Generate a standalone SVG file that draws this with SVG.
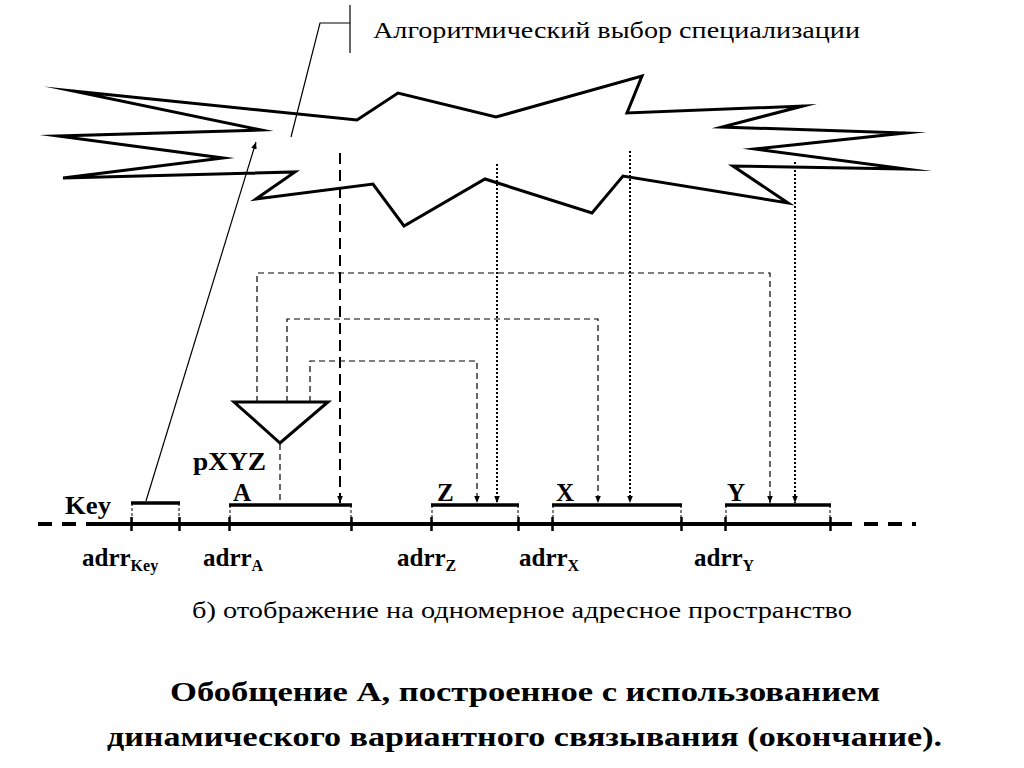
<svg xmlns="http://www.w3.org/2000/svg" width="1024" height="768" viewBox="0 0 1024 768" font-family="'Liberation Serif', 'DejaVu Serif', serif">
<defs>
<style>
text{font-family:'Liberation Serif','DejaVu Serif',serif;fill:#000}
.b{font-weight:bold}
.star{fill:none;stroke:#000;stroke-width:3;stroke-linejoin:miter;stroke-miterlimit:20}
.thin{fill:none;stroke:#000;stroke-width:1.2}
.dash{fill:none;stroke:#000;stroke-width:1.2;stroke-dasharray:6,4}
.long{fill:none;stroke:#000;stroke-width:2;stroke-dasharray:11,6}
.dot{fill:none;stroke:#000;stroke-width:2;stroke-dasharray:2,2}
.bar{fill:none;stroke:#000;stroke-width:3.5}
.axis{fill:none;stroke:#000;stroke-width:4}
.axd{fill:none;stroke:#000;stroke-width:4;stroke-dasharray:14,10}
.vd{fill:none;stroke:#000;stroke-width:1;stroke-dasharray:3,2}
.tick{fill:none;stroke:#000;stroke-width:2.5}
</style>
<marker id="ah" viewBox="0 0 10 10" refX="10" refY="5" markerWidth="7" markerHeight="7" markerUnits="userSpaceOnUse" orient="auto">
<path d="M0,1 L10,5 L0,9 z" fill="#000"/>
</marker>
</defs>
<rect width="1024" height="768" fill="#fff"/>

<g id="star">
<polygon class="star" points="73,91 357,120 398,93 496,117 642,76 627,113 803,106 722,127 905,133 755,149 906,169 733,166 788,203 623,176 592,213 485,179 404,226 373,184 256,199 295,172 63,178 223,158 58,136 261,130"/>
</g>

<g id="callout">
<polyline class="thin" points="291,137 320,23 350,23"/>
<line class="thin" x1="350" y1="5" x2="350" y2="53"/>
<text x="373" y="38" font-size="24" textLength="487" lengthAdjust="spacingAndGlyphs">Алгоритмический  выбор специализации</text>
</g>

<g id="axis">
<line class="axd" x1="38" y1="524" x2="93" y2="524"/>
<line class="axis" x1="93" y1="524" x2="852" y2="524"/>
<line class="axd" x1="864" y1="524" x2="916" y2="524"/>
<g class="tick">
<line x1="131.5" y1="517" x2="131.5" y2="531"/>
<line x1="179.5" y1="517" x2="179.5" y2="531"/>
<line x1="229.5" y1="517" x2="229.5" y2="531"/>
<line x1="351.5" y1="517" x2="351.5" y2="531"/>
<line x1="431.5" y1="517" x2="431.5" y2="531"/>
<line x1="518.5" y1="517" x2="518.5" y2="531"/>
<line x1="552.5" y1="517" x2="552.5" y2="531"/>
<line x1="681.5" y1="517" x2="681.5" y2="531"/>
<line x1="725.5" y1="517" x2="725.5" y2="531"/>
<line x1="830.5" y1="517" x2="830.5" y2="531"/>
</g>
</g>

<g id="key">
<line class="bar" x1="131" y1="503" x2="180" y2="503"/>
<line class="vd" x1="132" y1="503" x2="132" y2="524"/>
<line class="vd" x1="179" y1="503" x2="179" y2="524"/>
<text class="b" x="65" y="514" font-size="25" textLength="46" lengthAdjust="spacingAndGlyphs">Key</text>
<text class="b" x="82" y="566" font-size="25">adrr<tspan font-size="16" dy="5">Key</tspan></text>
</g>

<g id="A">
<line class="bar" x1="229" y1="505" x2="352" y2="505"/>
<line class="vd" x1="230" y1="505" x2="230" y2="524"/>
<line class="vd" x1="351" y1="505" x2="351" y2="524"/>
<text class="b" x="233" y="501" font-size="25">A</text>
<text class="b" x="203" y="566" font-size="25">adrr<tspan font-size="16" dy="5">A</tspan></text>
</g>

<g id="Z">
<line class="bar" x1="431" y1="505" x2="519" y2="505"/>
<line class="vd" x1="432" y1="505" x2="432" y2="524"/>
<line class="vd" x1="518" y1="505" x2="518" y2="524"/>
<text class="b" x="437" y="501" font-size="25">Z</text>
<text class="b" x="397" y="566" font-size="25">adrr<tspan font-size="16" dy="5">Z</tspan></text>
</g>

<g id="X">
<line class="bar" x1="552" y1="505" x2="682" y2="505"/>
<line class="vd" x1="553" y1="505" x2="553" y2="524"/>
<line class="vd" x1="681" y1="505" x2="681" y2="524"/>
<text class="b" x="556" y="501" font-size="25">X</text>
<text class="b" x="519" y="566" font-size="25">adrr<tspan font-size="16" dy="5">X</tspan></text>
</g>

<g id="Y">
<line class="bar" x1="725" y1="505" x2="831" y2="505"/>
<line class="vd" x1="726" y1="505" x2="726" y2="524"/>
<line class="vd" x1="830" y1="505" x2="830" y2="524"/>
<text class="b" x="727" y="501" font-size="25">Y</text>
<text class="b" x="694" y="566" font-size="25">adrr<tspan font-size="16" dy="5">Y</tspan></text>
</g>

<g id="pXYZ">
<polygon points="234,402 328,402 280,443" fill="#fff" stroke="#000" stroke-width="3" stroke-linejoin="miter"/>
<text class="b" x="193" y="470" font-size="25" textLength="73" lengthAdjust="spacingAndGlyphs">pXYZ</text>
</g>

<g id="connectors">
<line class="thin" x1="146" y1="501" x2="256" y2="142" stroke-width="2" marker-end="url(#ah)"/>
<line class="long" x1="340" y1="153" x2="340" y2="503" marker-end="url(#ah)"/>
<line class="dot" x1="497" y1="164" x2="497" y2="503" marker-end="url(#ah)"/>
<line class="dot" x1="630" y1="151" x2="630" y2="503" marker-end="url(#ah)"/>
<line class="dot" x1="795" y1="162" x2="795" y2="503" marker-end="url(#ah)"/>
<line class="dash" x1="280" y1="444" x2="280" y2="503"/>
<polyline class="dash" points="257,402 257,273 770,273 770,503" marker-end="url(#ah)"/>
<polyline class="dash" points="287,402 287,319 598,319 598,503" marker-end="url(#ah)"/>
<polyline class="dash" points="310,402 310,361 477,361 477,503" marker-end="url(#ah)"/>
</g>

<g id="captions">
<text x="192" y="618" font-size="23" textLength="660" lengthAdjust="spacingAndGlyphs">б) отображение  на  одномерное  адресное  пространство</text>
<text class="b" x="170" y="701" font-size="28" textLength="710" lengthAdjust="spacingAndGlyphs">Обобщение А,  построенное с использованием</text>
<text class="b" x="107" y="746" font-size="28" textLength="835" lengthAdjust="spacingAndGlyphs">динамического вариантного связывания (окончание).</text>
</g>
</svg>
